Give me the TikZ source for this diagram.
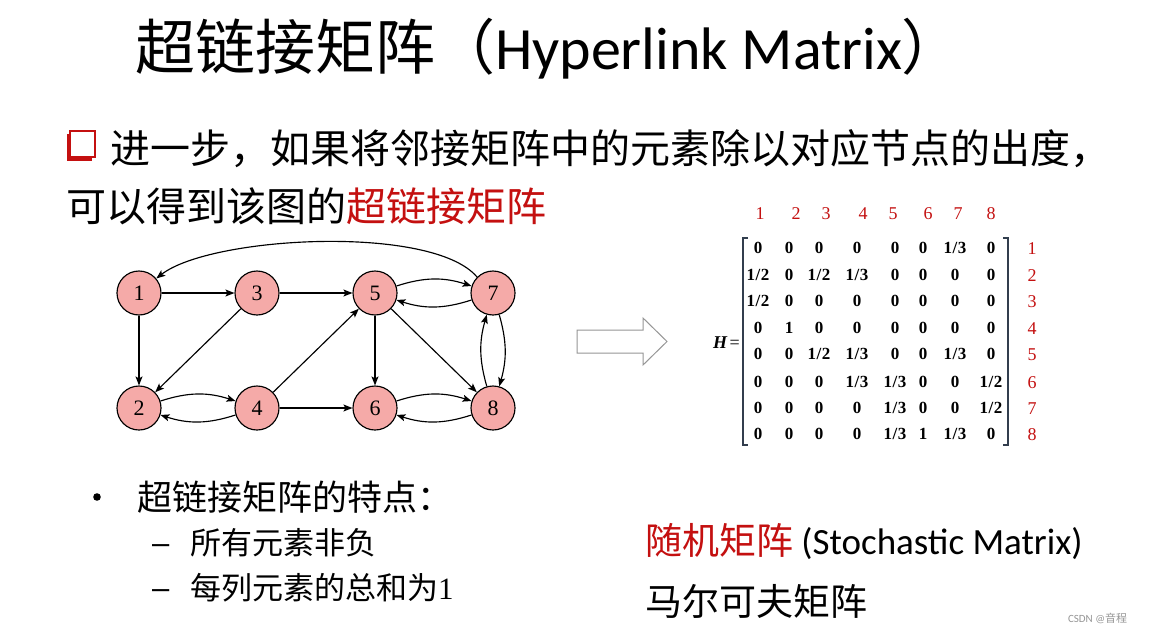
\documentclass[tikz,border=0pt]{standalone}
\usepackage{fontspec}
\setmainfont{Carlito}
\newfontfamily\cjk{Noto Sans CJK SC}
\newfontfamily\tnr{Liberation Serif}
\newfontfamily\lsans{Liberation Sans}
\usetikzlibrary{arrows.meta}
\definecolor{txtred}{RGB}{196,16,16}
\definecolor{nodefill}{RGB}{245,170,168}
\definecolor{brk}{RGB}{50,62,78}
\definecolor{arrgray}{RGB}{150,150,150}
\definecolor{wmgray}{RGB}{150,150,150}
\tikzset{
  txt/.style={anchor=base west, inner sep=0pt, outer sep=0pt},
  gnode/.style={circle, draw=black, line width=1.15pt, fill=nodefill, minimum size=44pt, inner sep=0pt, font=\tnr\fontsize{22}{24}\selectfont},
  edge/.style={line width=1.15pt, -{Stealth[length=9pt,width=7pt,inset=2pt]}},
  entry/.style={anchor=base, inner sep=0pt, font=\tnr\bfseries\fontsize{17}{19}\selectfont},
  lab/.style={anchor=base, inner sep=0pt, text=txtred, font=\tnr\fontsize{18}{20}\selectfont},
}
\newcommand{\fh}{1\kern0.6pt/\kern0.6pt2}
\newcommand{\ft}{1\kern0.6pt/\kern0.6pt3}
\begin{document}
\begin{tikzpicture}[x=1pt,y=1pt]
\useasboundingbox (0,0) rectangle (1150,-634);
\fill[white] (0,0) rectangle (1150,-634);

% title
\node[txt] (title) at (135,-69) {\fontsize{60}{70}\selectfont\cjk 超链接矩阵（\rmfamily Hyperlink Matrix\cjk ）};

% square bullet
\fill[txtred] (67,-134) rectangle (92,-161);
\draw[txtred, fill=white, line width=1.3pt] (70,-131) rectangle (95,-157);

\node[txt] (l2) at (110,-163) {\fontsize{40}{48}\selectfont\cjk 进一步，如果将邻接矩阵中的元素除以对应节点的出度，};
\node[txt] (l3) at (66,-221) {\fontsize{40}{48}\selectfont\cjk 可以得到该图的{\color{txtred}超链接矩阵}};

% graph
\node[gnode] (n1) at (139,-293) {1};
\node[gnode] (n3) at (257,-293) {3};
\node[gnode] (n5) at (375,-293) {5};
\node[gnode] (n7) at (493,-293) {7};
\node[gnode] (n2) at (139,-408) {2};
\node[gnode] (n4) at (257,-408) {4};
\node[gnode] (n6) at (375,-408) {6};
\node[gnode] (n8) at (493,-408) {8};

\draw[edge] (n1) -- (n3);
\draw[edge] (n1) -- (n2);
\draw[edge] (n3) -- (n5);
\draw[edge] (n3) -- (n2);
\draw[edge] (n4) -- (n5);
\draw[edge] (n4) -- (n6);
\draw[edge] (n5) -- (n6);
\draw[edge] (n5) -- (n8);
\draw[edge] (n2) to[bend left=18] (n4);
\draw[edge] (n4) to[bend left=18] (n2);
\draw[edge] (n5) to[bend left=18] (n7);
\draw[edge] (n7) to[bend left=18] (n5);
\draw[edge] (n6) to[bend left=18] (n8);
\draw[edge] (n8) to[bend left=18] (n6);
\draw[edge] (n7) to[bend left=16] (n8);
\draw[edge] (n8) to[bend left=16] (n7);
\draw[edge] (n7.135) to[out=130,in=38,looseness=0.55] (n1.40);

% hollow arrow
\draw[arrgray, fill=white, line width=1pt] (577,-330) -- (643,-330) -- (643,-318) -- (667,-341.5) -- (643,-365) -- (643,-353) -- (577,-353) -- cycle;

% matrix
\node[anchor=base east, inner sep=0pt] (Heq) at (740,-348) {\tnr\fontsize{18}{20}\selectfont{\bfseries\itshape H}\kern2.5pt=};
\draw[brk, line width=1.3pt] (748,-238) -- (743,-238) -- (743,-445) -- (748,-445);
\draw[brk, line width=1.3pt] (1003,-238) -- (1008,-238) -- (1008,-445) -- (1003,-445);

\foreach \cx [count=\c] in {760,796,826,863,893,928,958,991}
  \node[lab] (hd\c) at (\cx,-219) {\c};
\foreach \ry [count=\r] in {248,275,301,328,354,382,408,434}
  \node[lab] (rl\r) at (1032,-\ry-6) {\r};

\foreach \row [count=\r] in {
  {0,0,0,0,0,0,\ft,0},
  {\fh,0,\fh,\ft,0,0,0,0},
  {\fh,0,0,0,0,0,0,0},
  {0,1,0,0,0,0,0,0},
  {0,0,\fh,\ft,0,0,\ft,0},
  {0,0,0,\ft,\ft,0,0,\fh},
  {0,0,0,0,\ft,0,0,\fh},
  {0,0,0,0,\ft,1,\ft,0}}{
  \foreach \v [count=\c] in \row {
    \pgfmathsetmacro\cx{{758,789,819,857,895,923,955,991}[\c-1]}
    \pgfmathsetmacro\ry{{248,275,301,328,354,382,408,434}[\r-1]}
    \node[entry] (m\r-\c) at (\cx,-\ry-5.8) {\v};
  }
}

% bullet list
\fill (97,-497) circle (3.8);
\node[txt] (b1) at (137,-510) {\fontsize{35}{40}\selectfont\cjk 超链接矩阵的特点：};
\node[txt] (d1) at (152,-553) {\lsans\fontsize{31}{36}\selectfont –};
\node[txt] (s1) at (190,-554) {\fontsize{31}{36}\selectfont\cjk 所有元素非负};
\node[txt] (d2) at (152,-598) {\lsans\fontsize{31}{36}\selectfont –};
\node[txt] (s2) at (190,-599) {\fontsize{31}{36}\selectfont\cjk 每列元素的总和为\tnr 1};

% right notes
\node[txt] (r1) at (645,-554) {\fontsize{37}{42}\selectfont{\cjk\color{txtred}随机矩阵} (Stochastic Matrix)};
\node[txt] (r2) at (645,-615) {\fontsize{37}{42}\selectfont\cjk 马尔可夫矩阵};

% watermark
\node[txt, text=wmgray] (wm) at (1068,-622) {\fontsize{11}{13}\selectfont CSDN @{\cjk 音程}};
\end{tikzpicture}
\end{document}
